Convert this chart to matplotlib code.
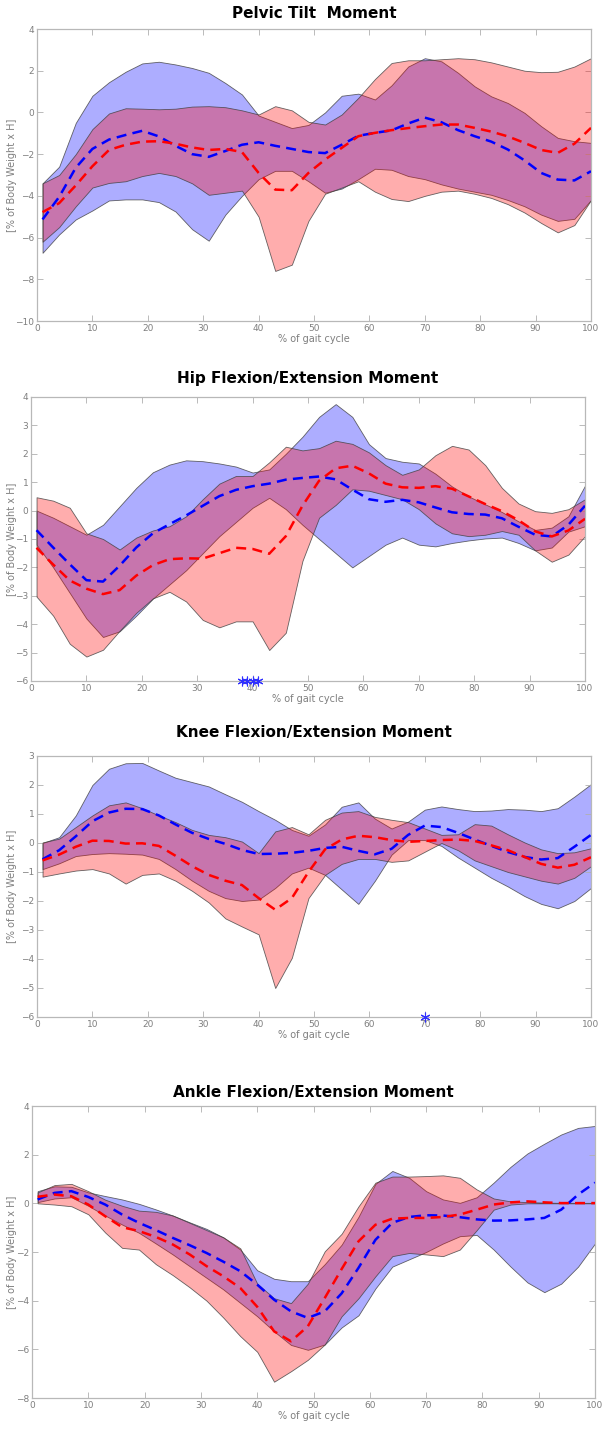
import matplotlib
matplotlib.use("Agg")
import matplotlib.pyplot as plt
import numpy as np

# % of gait cycle sample points (read every 3 %)
X = [1, 4, 7, 10, 13, 16, 19, 22, 25, 28, 31, 34, 37, 40, 43, 46, 49, 52,
     55, 58, 61, 64, 67, 70, 73, 76, 79, 82, 85, 88, 91, 94, 97, 100]

# --- Pelvic tilt
PEL_B_MEAN = [-5.13, -4.05, -2.65, -1.75, -1.3, -1.08, -0.88, -1.15, -1.6, -2.0, -2.13, -1.85,
              -1.55, -1.43, -1.6, -1.75, -1.9, -1.95, -1.55, -1.12, -0.98, -0.86, -0.53, -0.25,
              -0.47, -0.85, -1.14, -1.4, -1.78, -2.3, -2.9, -3.22, -3.26, -2.82]
PEL_B_UP = [-3.4, -2.6, -0.5, 0.8, 1.45, 1.95, 2.35, 2.43, 2.3, 2.13, 1.9, 1.41, 0.86, -0.15,
            -0.45, -0.75, -0.6, 0.0, 0.8, 0.9, 0.62, 1.3, 2.2, 2.6, 2.45, 1.9, 1.25, 0.77,
            0.45, -0.02, -0.66, -1.22, -1.38, -1.46]
PEL_B_LO = [-6.73, -5.85, -5.13, -4.7, -4.22, -4.17, -4.17, -4.3, -4.75, -5.6, -6.15, -4.9,
            -4.0, -3.2, -2.8, -2.8, -3.3, -3.85, -3.65, -3.2, -2.7, -2.75, -3.05, -3.2, -3.45,
            -3.65, -3.8, -3.95, -4.2, -4.5, -4.9, -5.2, -5.1, -4.2]
PEL_R_MEAN = [-4.78, -4.35, -3.5, -2.58, -1.8, -1.55, -1.4, -1.38, -1.5, -1.68, -1.8, -1.75,
              -1.9, -2.9, -3.7, -3.73, -2.9, -2.26, -1.7, -1.14, -0.98, -0.85, -0.75, -0.66,
              -0.58, -0.58, -0.74, -0.92, -1.15, -1.46, -1.8, -1.94, -1.5, -0.74]
PEL_R_UP = [-3.4, -3.0, -2.0, -0.8, -0.05, 0.2, 0.18, 0.15, 0.18, 0.28, 0.3, 0.25, 0.1, -0.1,
            0.3, 0.1, -0.45, -0.58, -0.1, 0.7, 1.6, 2.37, 2.5, 2.5, 2.55, 2.6, 2.55, 2.4,
            2.2, 2.0, 1.93, 1.95, 2.2, 2.6]
PEL_R_LO = [-6.2, -5.5, -4.5, -3.6, -3.38, -3.3, -3.05, -2.9, -3.05, -3.4, -3.95, -3.85,
            -3.75, -5.0, -7.6, -7.3, -5.2, -3.9, -3.6, -3.3, -3.8, -4.15, -4.25, -4.0, -3.8,
            -3.75, -3.9, -4.1, -4.4, -4.8, -5.3, -5.75, -5.4, -4.2]

# --- Hip flexion/extension
HIP_B_MEAN = [-0.69, -1.3, -1.89, -2.45, -2.5, -1.94, -1.3, -0.8, -0.48, -0.17, 0.17, 0.51,
              0.73, 0.86, 0.95, 1.09, 1.15, 1.2, 1.1, 0.74, 0.4, 0.31, 0.38, 0.29, 0.11,
              -0.06, -0.12, -0.14, -0.27, -0.57, -0.85, -0.91, -0.5, 0.17]
HIP_B_UP = [0.0, -0.25, -0.55, -0.85, -0.5, 0.15, 0.8, 1.35, 1.62, 1.77, 1.74, 1.66, 1.55,
            1.34, 1.45, 2.0, 2.6, 3.3, 3.75, 3.3, 2.34, 1.85, 1.72, 1.66, 1.3, 0.85, 0.5,
            0.22, -0.05, -0.38, -0.68, -0.6, -0.2, 0.88]
HIP_B_LO = [-1.2, -2.0, -2.9, -3.8, -4.45, -4.25, -3.7, -3.1, -2.6, -2.1, -1.5, -0.9, -0.4,
            0.1, 0.45, 0.05, -0.5, -1.0, -1.5, -2.0, -1.6, -1.2, -0.95, -1.2, -1.26, -1.14,
            -1.05, -0.98, -0.95, -1.14, -1.4, -1.3, -0.74, -0.55]
HIP_R_MEAN = [-1.31, -1.9, -2.46, -2.75, -2.94, -2.8, -2.29, -1.92, -1.71, -1.68, -1.69, -1.5,
              -1.31, -1.35, -1.52, -0.9, 0.17, 1.05, 1.49, 1.58, 1.31, 0.95, 0.82, 0.8, 0.86,
              0.77, 0.5, 0.23, -0.02, -0.34, -0.73, -0.91, -0.7, -0.29]
HIP_R_UP = [0.47, 0.35, 0.1, -0.8, -1.0, -1.37, -0.95, -0.7, -0.55, -0.2, 0.4, 0.95, 1.22,
            1.22, 1.7, 2.25, 2.12, 2.2, 2.46, 2.35, 2.05, 1.6, 1.26, 1.45, 1.95, 2.28, 2.15,
            1.6, 0.8, 0.25, -0.02, -0.08, 0.05, 0.4]
HIP_R_LO = [-3.03, -3.7, -4.69, -5.14, -4.9, -4.23, -3.6, -3.09, -2.86, -3.2, -3.85, -4.11,
            -3.9, -3.9, -4.91, -4.3, -1.77, -0.25, 0.2, 0.75, 0.7, 0.55, 0.4, 0.05, -0.45,
            -0.8, -0.9, -0.85, -0.72, -0.85, -1.4, -1.8, -1.55, -0.9]
HIP_STARS = [38, 39, 40, 41]

# --- Knee flexion/extension
KNE_B_MEAN = [-0.56, -0.25, 0.23, 0.75, 1.05, 1.18, 1.17, 0.95, 0.64, 0.35, 0.14, -0.03,
              -0.24, -0.38, -0.37, -0.34, -0.27, -0.17, -0.13, -0.27, -0.39, -0.2, 0.28, 0.6,
              0.55, 0.35, 0.12, -0.1, -0.31, -0.48, -0.57, -0.52, -0.13, 0.28]
KNE_B_UP = [0.0, 0.2, 0.95, 2.0, 2.56, 2.75, 2.76, 2.5, 2.25, 2.1, 1.95, 1.68, 1.42, 1.1, 0.8,
            0.45, 0.25, 0.64, 1.25, 1.4, 0.84, 0.5, 0.74, 1.15, 1.26, 1.17, 1.1, 1.12, 1.17,
            1.15, 1.1, 1.2, 1.6, 2.03]
KNE_B_LO = [-0.9, -0.7, -0.45, -0.38, -0.35, -0.37, -0.4, -0.55, -0.9, -1.3, -1.65, -1.9,
            -2.0, -1.95, -1.55, -1.05, -0.85, -1.1, -1.6, -2.1, -1.3, -0.4, 0.1, 0.1, -0.1,
            -0.5, -0.85, -1.2, -1.5, -1.83, -2.1, -2.25, -2.0, -1.55]
KNE_R_MEAN = [-0.6, -0.4, -0.13, 0.08, 0.07, -0.02, -0.01, -0.1, -0.44, -0.8, -1.1, -1.3,
              -1.45, -1.9, -2.3, -1.9, -1.0, -0.22, 0.12, 0.25, 0.2, 0.1, 0.04, 0.07, 0.1,
              0.12, 0.07, -0.08, -0.25, -0.48, -0.72, -0.85, -0.75, -0.49]
KNE_R_UP = [0.02, 0.15, 0.55, 0.95, 1.3, 1.4, 1.2, 0.95, 0.72, 0.45, 0.28, 0.2, 0.05, -0.35,
            0.4, 0.55, 0.3, 0.8, 1.05, 1.1, 0.9, 0.8, 0.72, 0.5, 0.28, 0.3, 0.65, 0.6, 0.3,
            0.02, -0.22, -0.35, -0.32, -0.18]
KNE_R_LO = [-1.16, -1.05, -0.95, -0.9, -1.05, -1.4, -1.1, -1.05, -1.3, -1.65, -2.05, -2.6,
            -2.88, -3.15, -5.0, -3.96, -1.9, -1.1, -0.72, -0.55, -0.55, -0.65, -0.6, -0.3,
            0.0, -0.25, -0.6, -0.8, -1.0, -1.15, -1.3, -1.4, -1.2, -0.8]
KNE_STARS = [70]

# --- Ankle flexion/extension
ANK_B_MEAN = [0.16, 0.43, 0.5, 0.26, -0.05, -0.46, -0.8, -1.1, -1.42, -1.72, -2.04, -2.4,
              -2.79, -3.34, -3.96, -4.44, -4.71, -4.44, -3.7, -2.65, -1.5, -0.8, -0.56, -0.49,
              -0.5, -0.57, -0.66, -0.71, -0.7, -0.66, -0.6, -0.26, 0.36, 0.85]
ANK_B_UP = [0.5, 0.7, 0.68, 0.45, 0.3, 0.16, -0.02, -0.25, -0.5, -0.78, -1.05, -1.4, -1.9,
            -2.75, -3.1, -3.2, -3.2, -2.5, -1.7, -0.55, 0.8, 1.33, 1.05, 0.5, 0.16, 0.02,
            0.25, 0.85, 1.5, 2.05, 2.45, 2.83, 3.1, 3.18]
ANK_B_LO = [0.05, 0.2, 0.25, -0.1, -0.5, -0.87, -1.21, -1.65, -2.1, -2.58, -3.06, -3.54,
            -4.09, -4.64, -5.26, -5.82, -6.02, -5.8, -5.1, -4.6, -3.5, -2.6, -2.3, -2.0,
            -1.65, -1.35, -1.3, -1.9, -2.6, -3.25, -3.65, -3.3, -2.6, -1.65]
ANK_R_MEAN = [0.27, 0.36, 0.29, -0.05, -0.53, -0.98, -1.14, -1.38, -1.69, -2.1, -2.58, -3.0,
              -3.48, -4.25, -5.26, -5.67, -5.05, -3.89, -2.7, -1.56, -0.88, -0.63, -0.6, -0.6,
              -0.56, -0.46, -0.26, -0.05, 0.04, 0.08, 0.04, 0.01, 0.01, 0.01]
ANK_R_UP = [0.45, 0.75, 0.8, 0.5, 0.15, -0.1, -0.3, -0.35, -0.5, -0.8, -1.1, -1.4, -1.85,
            -3.3, -3.9, -4.1, -3.3, -1.97, -1.25, -0.12, 0.85, 1.1, 1.1, 1.12, 1.15, 1.05,
            0.57, 0.2, 0.08, 0.05, 0.03, 0.02, 0.02, 0.02]
ANK_R_LO = [0.0, -0.05, -0.12, -0.45, -1.2, -1.83, -1.9, -2.5, -2.95, -3.45, -4.0, -4.7,
            -5.46, -6.1, -7.33, -6.9, -6.43, -5.8, -4.64, -3.9, -3.0, -2.17, -2.04, -2.1,
            -2.17, -1.9, -1.1, -0.26, -0.05, 0.0, 0.0, 0.0, 0.0, 0.0]

TITLES = ["Pelvic Tilt  Moment", "Hip Flexion/Extension Moment",
          "Knee Flexion/Extension Moment", "Ankle Flexion/Extension Moment"]
YTICKS = [np.arange(-10, 5, 2), np.arange(-6, 5, 1), np.arange(-6, 4, 1), np.arange(-8, 5, 2)]

W, H = 604, 1429
# panel boxes in pixels: left, right, top, bottom ; title y
BOXES = [(37, 591, 29, 321, 13), (31, 585, 397, 681, 378),
         (37, 591, 756, 1017, 733), (32, 595, 1106, 1398, 1093)]

GRAY = "#7f7f7f"
plt.rcParams["font.family"] = ["DejaVu Sans"]

fig = plt.figure(figsize=(W / 100, H / 100), dpi=100)

panels = [
    (PEL_B_MEAN, PEL_B_UP, PEL_B_LO, PEL_R_MEAN, PEL_R_UP, PEL_R_LO, []),
    (HIP_B_MEAN, HIP_B_UP, HIP_B_LO, HIP_R_MEAN, HIP_R_UP, HIP_R_LO, HIP_STARS),
    (KNE_B_MEAN, KNE_B_UP, KNE_B_LO, KNE_R_MEAN, KNE_R_UP, KNE_R_LO, KNE_STARS),
    (ANK_B_MEAN, ANK_B_UP, ANK_B_LO, ANK_R_MEAN, ANK_R_UP, ANK_R_LO, []),
]

for k, (bm, bu, bl, rm, ru, rl, stars) in enumerate(panels):
    l, r, t, b, ty = BOXES[k]
    ax = fig.add_axes([l / W, 1 - b / H, (r - l) / W, (b - t) / H])
    ax.fill_between(X, bl, bu, facecolor=(0, 0, 1, 0.32), edgecolor=(0.25, 0.25, 0.25, 0.8),
                    lw=0.6, zorder=1)
    ax.fill_between(X, rl, ru, facecolor=(1, 0, 0, 0.32), edgecolor=(0.25, 0.25, 0.25, 0.8),
                    lw=0.6, zorder=2)
    ax.plot(X, bm, color="#0000ff", lw=1.8, dashes=(4, 2.5), zorder=3)
    ax.plot(X, rm, color="#ff0000", lw=1.8, dashes=(4, 2.5), zorder=4)
    yt = YTICKS[k]
    if stars:
        # significance markers on the bottom axis
        ax.plot(stars, [yt[0]] * len(stars), ls="none", marker=(6, 2, 0), ms=7,
                color="#3030ff", mew=0.8, clip_on=False, zorder=5)
    ax.set_xlim(0, 100)
    ax.set_ylim(yt[0], yt[-1])
    ax.set_xticks(range(0, 101, 10))
    ax.set_yticks(yt)
    ax.tick_params(direction="in", length=4, width=0.6, colors="#b0b0b0",
                   labelcolor=GRAY, labelsize=6.5, top=True, right=True, pad=2)
    for s in ax.spines.values():
        s.set_color("#b8b8b8")
        s.set_linewidth(0.9)
    ax.set_xlabel("% of gait cycle", fontsize=7, color=GRAY, labelpad=1)
    ax.set_ylabel("[% of Body Weight x H]", fontsize=7, color=GRAY)
    ax.yaxis.set_label_coords((17 - l) / (r - l), 0.5)
    fig.text((l + r) / 2 / W, 1 - ty / H, TITLES[k], ha="center", va="center",
             fontsize=11, fontweight="bold", color="black")

fig.savefig("out.png", dpi=100)
